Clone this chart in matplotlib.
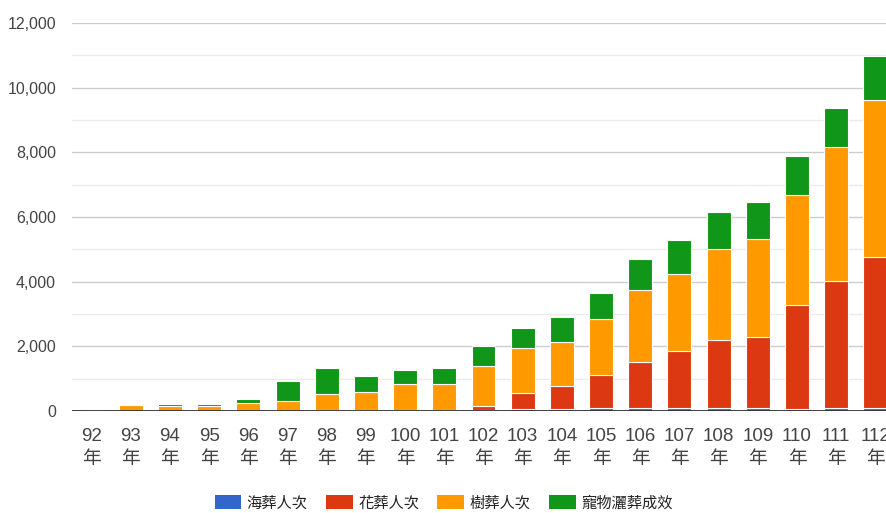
import numpy as np
import matplotlib
matplotlib.use("Agg")
import matplotlib.pyplot as plt
from matplotlib.ticker import MultipleLocator, FuncFormatter

plt.rcParams['font.family'] = ['Liberation Sans', 'Noto Sans CJK TC', 'DejaVu Sans']

years = ['92', '93', '94', '95', '96', '97', '98', '99', '100', '101', '102',
         '103', '104', '105', '106', '107', '108', '109', '110', '111', '112']
sea = [5, 5, 5, 5, 5, 10, 20, 25, 30, 30, 30,
       60, 60, 100, 100, 100, 100, 100, 50, 100, 100]
flower = [10, 0, 0, 0, 0, 0, 0, 0, 0, 0, 125,
          485, 700, 1010, 1405, 1745, 2085, 2180, 3230, 3920, 4650]
tree = [10, 170, 165, 165, 230, 310, 505, 565, 805, 805, 1245,
        1390, 1370, 1730, 2240, 2380, 2815, 3040, 3400, 4155, 4865]
pet = [50, 55, 55, 55, 125, 600, 815, 495, 420, 505, 610,
       620, 775, 805, 950, 1060, 1165, 1135, 1215, 1185, 1360]

series = [('海葬人次', sea, '#3366cc'),
          ('花葬人次', flower, '#dc3912'),
          ('樹葬人次', tree, '#ff9900'),
          ('寵物灑葬成效', pet, '#109618')]

fig = plt.figure(figsize=(8.87, 5.13), dpi=100)
ax = fig.add_axes([72 / 887, 102 / 513, 823 / 887, 388 / 513])

x = np.arange(len(years))
bottom = np.zeros(len(years))
handles = []
for name, vals, color in series:
    vals = np.array(vals, dtype=float)
    b = ax.bar(x, vals, width=0.61, bottom=bottom, color=color,
               edgecolor='white', linewidth=0.8, label=name, zorder=3)
    handles.append(b)
    bottom += vals

ax.set_xlim(-0.5, len(years) - 0.5)
ax.set_ylim(0, 12000)
ax.yaxis.set_major_locator(MultipleLocator(2000))
ax.yaxis.set_minor_locator(MultipleLocator(1000))
ax.yaxis.set_major_formatter(FuncFormatter(lambda v, p: f'{int(v):,}'))
ax.grid(axis='y', which='major', color='#cccccc', linewidth=1, zorder=0)
ax.grid(axis='y', which='minor', color='#ebebeb', linewidth=1, zorder=0)
ax.axhline(0, color='#333333', linewidth=1.3, zorder=4)

ax.set_xticks(x)
ax.set_xticklabels([f'{y}\n年' for y in years], linespacing=1.45)
ax.tick_params(axis='both', which='both', length=0, colors='#444444')
ax.tick_params(axis='x', labelsize=13.5, pad=12)
ax.tick_params(axis='y', labelsize=11.5, pad=11.5)
for s in ax.spines.values():
    s.set_visible(False)

leg = fig.legend(handles=handles, labels=[s[0] for s in series], loc='center',
                 bbox_to_anchor=(0.5, 10 / 513), ncol=4, frameon=False,
                 prop={'family': ['Noto Sans CJK TC'], 'size': 11},
                 handlelength=1.75, handleheight=1.0,
                 handletextpad=0.35, columnspacing=1.2, labelcolor='#222222')
for h in leg.legend_handles:
    h.set_linewidth(0)

fig.savefig('out.png', dpi=100)
